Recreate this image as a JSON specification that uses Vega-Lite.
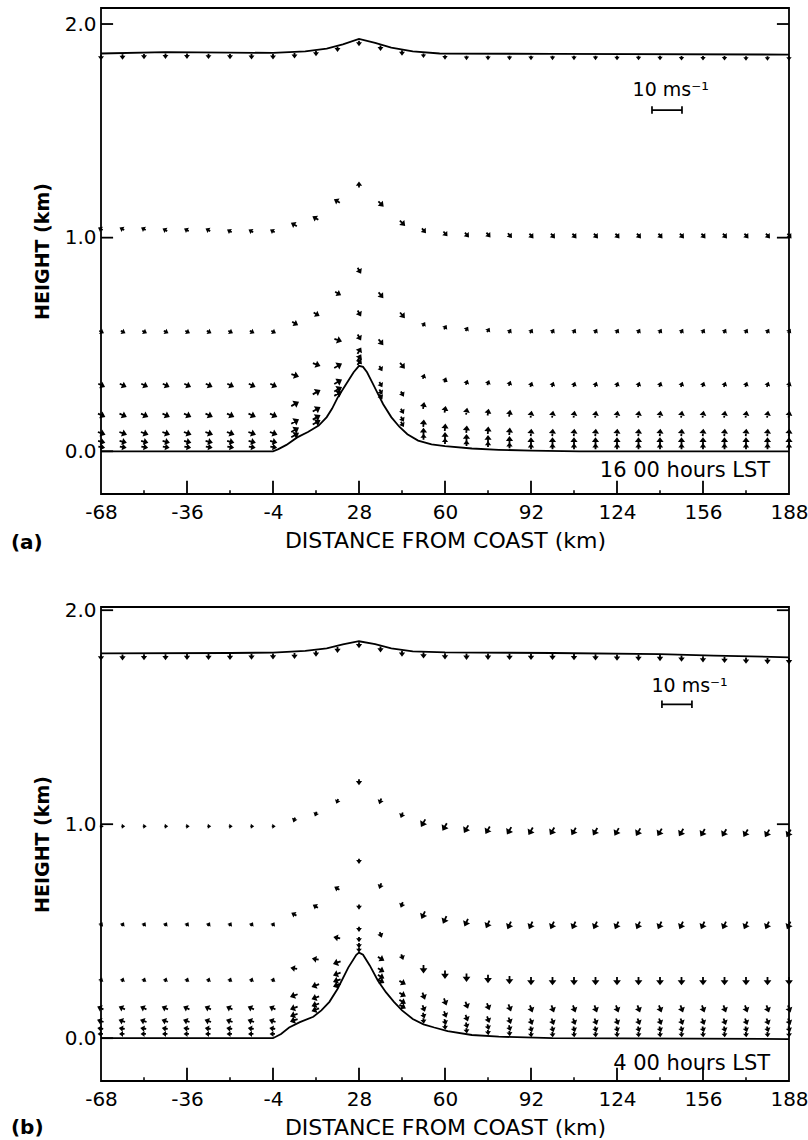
{
"$schema": "https://vega.github.io/schema/vega-lite/v6.json",
"padding": {"left": 10, "top": 7, "right": 6, "bottom": 4},
"background": "white",
"spacing": 44,
"config": {
 "font": "DejaVu Sans",
 "view": {"stroke": "black", "strokeWidth": 1.8},
 "axisX": {"ticks": false, "domain": false, "grid": false, "labelFontSize": 20, "labelColor": "black", "labelPadding": 8, "labelFlush": false, "labelExpr": "'' + datum.value", "titleFontSize": 22, "titleFontWeight": "normal", "titleColor": "black", "titlePadding": 8},
 "axisY": {"ticks": false, "domain": false, "grid": false, "labelFontSize": 20, "labelColor": "black", "labelPadding": 5, "titleFontSize": 19, "titleFontWeight": "bold", "titleColor": "black", "titlePadding": 12}
},
"datasets": {
 "ta": [{"x":-68,"h":0},{"x":-4,"h":0},{"x":-2,"h":0.01},{"x":1,"h":0.03},{"x":5,"h":0.065},{"x":9,"h":0.09},{"x":13,"h":0.12},{"x":16,"h":0.16},{"x":18,"h":0.2},{"x":20,"h":0.25},{"x":23,"h":0.31},{"x":26,"h":0.37},{"x":28,"h":0.4},{"x":29.5,"h":0.395},{"x":31,"h":0.37},{"x":33,"h":0.32},{"x":35,"h":0.27},{"x":37,"h":0.22},{"x":40,"h":0.16},{"x":43,"h":0.115},{"x":46,"h":0.08},{"x":50,"h":0.05},{"x":55,"h":0.032},{"x":60,"h":0.024},{"x":70,"h":0.013},{"x":80,"h":0.007},{"x":92,"h":0.003},{"x":110,"h":0},{"x":188,"h":0}],
 "pa": [{"x":-68,"h":1.862},{"x":-44,"h":1.868},{"x":-20,"h":1.866},{"x":-4,"h":1.865},{"x":8,"h":1.872},{"x":16,"h":1.885},{"x":22,"h":1.905},{"x":28,"h":1.93},{"x":34,"h":1.912},{"x":40,"h":1.89},{"x":48,"h":1.872},{"x":58,"h":1.862},{"x":100,"h":1.86},{"x":188,"h":1.857}],
 "tb": [{"x":-68,"h":0},{"x":-4,"h":0},{"x":-1,"h":0.02},{"x":2,"h":0.05},{"x":6,"h":0.075},{"x":11,"h":0.1},{"x":14,"h":0.13},{"x":17,"h":0.17},{"x":20,"h":0.23},{"x":24,"h":0.33},{"x":27,"h":0.39},{"x":28,"h":0.4},{"x":29.5,"h":0.39},{"x":32,"h":0.34},{"x":35,"h":0.27},{"x":38,"h":0.215},{"x":41,"h":0.17},{"x":44,"h":0.13},{"x":48,"h":0.09},{"x":52,"h":0.065},{"x":56,"h":0.05},{"x":61,"h":0.033},{"x":70,"h":0.015},{"x":80,"h":0.007},{"x":100,"h":0},{"x":188,"h":-0.004}],
 "pb": [{"x":-68,"h":1.798},{"x":-20,"h":1.8},{"x":-4,"h":1.802},{"x":8,"h":1.81},{"x":16,"h":1.822},{"x":22,"h":1.84},{"x":28,"h":1.855},{"x":34,"h":1.842},{"x":40,"h":1.822},{"x":48,"h":1.808},{"x":60,"h":1.803},{"x":100,"h":1.8},{"x":140,"h":1.795},{"x":160,"h":1.788},{"x":188,"h":1.78}],
 "minor": [{"t":-52},{"t":-20},{"t":12},{"t":44},{"t":76},{"t":108},{"t":140},{"t":172}],
 "major": [{"t":-36},{"t":-4},{"t":28},{"t":60},{"t":92},{"t":124},{"t":156}],
 "yt": [{"h":0},{"h":1},{"h":2}],
 "rt": [{"h":1},{"h":2}],
 "va": [
{"x":-68,"z":0.02,"d":100,"v":1.8},{"x":-60,"z":0.02,"d":100,"v":1.8},{"x":-52,"z":0.02,"d":100,"v":1.8},{"x":-44,"z":0.02,"d":100,"v":1.8},{"x":-36,"z":0.02,"d":100,"v":1.8},{"x":-28,"z":0.02,"d":100,"v":1.8},{"x":-20,"z":0.02,"d":100,"v":1.8},{"x":-12,"z":0.02,"d":100,"v":1.8},{"x":-4,"z":0.02,"d":100,"v":1.8},
{"x":4,"z":0.074,"d":60,"v":2.5},{"x":12,"z":0.134,"d":60,"v":2.5},{"x":20,"z":0.268,"d":60,"v":2.5},{"x":28,"z":0.416,"d":30,"v":2.0},{"x":36,"z":0.258,"d":150,"v":1.5},{"x":44,"z":0.129,"d":150,"v":1.5},
{"x":52,"z":0.065,"d":0,"v":1.5},{"x":60,"z":0.045,"d":0,"v":1.5},{"x":68,"z":0.035,"d":0,"v":1.5},{"x":76,"z":0.03,"d":0,"v":1.5},{"x":84,"z":0.025,"d":0,"v":1.5},{"x":92,"z":0.02,"d":0,"v":1.5},{"x":100,"z":0.02,"d":0,"v":1.5},{"x":108,"z":0.02,"d":0,"v":1.5},{"x":116,"z":0.02,"d":0,"v":1.5},{"x":124,"z":0.02,"d":0,"v":1.5},{"x":132,"z":0.02,"d":0,"v":1.5},{"x":140,"z":0.02,"d":0,"v":1.5},{"x":148,"z":0.02,"d":0,"v":1.5},{"x":156,"z":0.02,"d":0,"v":1.5},{"x":164,"z":0.02,"d":0,"v":1.5},{"x":172,"z":0.02,"d":0,"v":1.5},{"x":180,"z":0.02,"d":0,"v":1.5},{"x":188,"z":0.02,"d":0,"v":1.5},
{"x":-68,"z":0.045,"d":105,"v":2.0},{"x":-60,"z":0.045,"d":105,"v":2.0},{"x":-52,"z":0.045,"d":105,"v":2.0},{"x":-44,"z":0.045,"d":105,"v":2.0},{"x":-36,"z":0.045,"d":105,"v":2.0},{"x":-28,"z":0.045,"d":105,"v":2.0},{"x":-20,"z":0.045,"d":105,"v":2.0},{"x":-12,"z":0.045,"d":105,"v":2.0},{"x":-4,"z":0.045,"d":105,"v":2.0},
{"x":4,"z":0.099,"d":60,"v":2.5},{"x":12,"z":0.157,"d":60,"v":2.5},{"x":20,"z":0.289,"d":60,"v":2.5},{"x":28,"z":0.436,"d":30,"v":2.0},{"x":36,"z":0.28,"d":150,"v":1.5},{"x":44,"z":0.153,"d":150,"v":1.5},
{"x":52,"z":0.089,"d":0,"v":2.0},{"x":60,"z":0.069,"d":0,"v":2.0},{"x":68,"z":0.06,"d":0,"v":2.0},{"x":76,"z":0.055,"d":0,"v":2.0},{"x":84,"z":0.05,"d":0,"v":2.0},{"x":92,"z":0.045,"d":0,"v":2.0},{"x":100,"z":0.045,"d":0,"v":2.0},{"x":108,"z":0.045,"d":0,"v":2.0},{"x":116,"z":0.045,"d":0,"v":2.0},{"x":124,"z":0.045,"d":0,"v":2.0},{"x":132,"z":0.045,"d":0,"v":2.0},{"x":140,"z":0.045,"d":0,"v":2.0},{"x":148,"z":0.045,"d":0,"v":2.0},{"x":156,"z":0.045,"d":0,"v":2.0},{"x":164,"z":0.045,"d":0,"v":2.0},{"x":172,"z":0.045,"d":0,"v":2.0},{"x":180,"z":0.045,"d":0,"v":2.0},{"x":188,"z":0.045,"d":0,"v":2.0},
{"x":-68,"z":0.085,"d":110,"v":2.2},{"x":-60,"z":0.085,"d":110,"v":2.2},{"x":-52,"z":0.085,"d":110,"v":2.2},{"x":-44,"z":0.085,"d":110,"v":2.2},{"x":-36,"z":0.085,"d":110,"v":2.2},{"x":-28,"z":0.085,"d":110,"v":2.2},{"x":-20,"z":0.085,"d":110,"v":2.2},{"x":-12,"z":0.085,"d":110,"v":2.2},{"x":-4,"z":0.085,"d":110,"v":2.2},
{"x":4,"z":0.138,"d":60,"v":2.5},{"x":12,"z":0.195,"d":60,"v":2.5},{"x":20,"z":0.324,"d":60,"v":2.5},{"x":28,"z":0.468,"d":30,"v":2.0},{"x":36,"z":0.315,"d":150,"v":1.5},{"x":44,"z":0.19,"d":150,"v":1.5},
{"x":52,"z":0.128,"d":5,"v":2.0},{"x":60,"z":0.109,"d":5,"v":2.0},{"x":68,"z":0.1,"d":5,"v":2.0},{"x":76,"z":0.095,"d":5,"v":2.0},{"x":84,"z":0.09,"d":5,"v":2.0},{"x":92,"z":0.085,"d":5,"v":2.0},{"x":100,"z":0.085,"d":5,"v":2.0},{"x":108,"z":0.085,"d":5,"v":2.0},{"x":116,"z":0.085,"d":5,"v":2.0},{"x":124,"z":0.085,"d":5,"v":2.0},{"x":132,"z":0.085,"d":5,"v":2.0},{"x":140,"z":0.085,"d":5,"v":2.0},{"x":148,"z":0.085,"d":5,"v":2.0},{"x":156,"z":0.085,"d":5,"v":2.0},{"x":164,"z":0.085,"d":5,"v":2.0},{"x":172,"z":0.085,"d":5,"v":2.0},{"x":180,"z":0.085,"d":5,"v":2.0},{"x":188,"z":0.085,"d":5,"v":2.0},
{"x":-68,"z":0.17,"d":115,"v":2.2},{"x":-60,"z":0.17,"d":115,"v":2.2},{"x":-52,"z":0.17,"d":115,"v":2.2},{"x":-44,"z":0.17,"d":115,"v":2.2},{"x":-36,"z":0.17,"d":115,"v":2.2},{"x":-28,"z":0.17,"d":115,"v":2.2},{"x":-20,"z":0.17,"d":115,"v":2.2},{"x":-12,"z":0.17,"d":115,"v":2.2},{"x":-4,"z":0.17,"d":115,"v":2.2},
{"x":4,"z":0.22,"d":60,"v":2.5},{"x":12,"z":0.275,"d":60,"v":2.5},{"x":20,"z":0.399,"d":60,"v":2.5},{"x":28,"z":0.536,"d":150,"v":1.8},{"x":36,"z":0.39,"d":150,"v":1.5},{"x":44,"z":0.271,"d":150,"v":1.5},
{"x":52,"z":0.211,"d":10,"v":1.8},{"x":60,"z":0.193,"d":10,"v":1.8},{"x":68,"z":0.184,"d":10,"v":1.8},{"x":76,"z":0.18,"d":10,"v":1.8},{"x":84,"z":0.175,"d":10,"v":1.8},{"x":92,"z":0.17,"d":10,"v":1.8},{"x":100,"z":0.17,"d":10,"v":1.8},{"x":108,"z":0.17,"d":10,"v":1.8},{"x":116,"z":0.17,"d":10,"v":1.8},{"x":124,"z":0.17,"d":10,"v":1.8},{"x":132,"z":0.17,"d":10,"v":1.8},{"x":140,"z":0.17,"d":10,"v":1.8},{"x":148,"z":0.17,"d":10,"v":1.8},{"x":156,"z":0.17,"d":10,"v":1.8},{"x":164,"z":0.17,"d":10,"v":1.8},{"x":172,"z":0.17,"d":10,"v":1.8},{"x":180,"z":0.17,"d":10,"v":1.8},{"x":188,"z":0.17,"d":10,"v":1.8},
{"x":-68,"z":0.31,"d":115,"v":2.0},{"x":-60,"z":0.31,"d":115,"v":2.0},{"x":-52,"z":0.31,"d":115,"v":2.0},{"x":-44,"z":0.31,"d":115,"v":2.0},{"x":-36,"z":0.31,"d":115,"v":2.0},{"x":-28,"z":0.31,"d":115,"v":2.0},{"x":-20,"z":0.31,"d":115,"v":2.0},{"x":-12,"z":0.31,"d":115,"v":2.0},{"x":-4,"z":0.31,"d":115,"v":2.0},
{"x":4,"z":0.356,"d":110,"v":2.2},{"x":12,"z":0.407,"d":110,"v":2.2},{"x":20,"z":0.521,"d":110,"v":2.2},{"x":28,"z":0.648,"d":150,"v":1.8},{"x":36,"z":0.513,"d":140,"v":2.0},{"x":44,"z":0.403,"d":140,"v":2.0},
{"x":52,"z":0.348,"d":20,"v":1.3},{"x":60,"z":0.331,"d":20,"v":1.3},{"x":68,"z":0.32,"d":20,"v":1.3},{"x":76,"z":0.318,"d":20,"v":1.3},{"x":84,"z":0.315,"d":20,"v":1.3},{"x":92,"z":0.31,"d":20,"v":1.3},{"x":100,"z":0.31,"d":20,"v":1.3},{"x":108,"z":0.31,"d":20,"v":1.3},{"x":116,"z":0.31,"d":20,"v":1.3},{"x":124,"z":0.31,"d":20,"v":1.3},{"x":132,"z":0.31,"d":20,"v":1.3},{"x":140,"z":0.31,"d":20,"v":1.3},{"x":148,"z":0.31,"d":20,"v":1.3},{"x":156,"z":0.31,"d":20,"v":1.3},{"x":164,"z":0.31,"d":20,"v":1.3},{"x":172,"z":0.31,"d":20,"v":1.3},{"x":180,"z":0.31,"d":20,"v":1.3},{"x":188,"z":0.31,"d":20,"v":1.3},
{"x":-68,"z":0.56,"d":120,"v":1.3},{"x":-60,"z":0.56,"d":120,"v":1.3},{"x":-52,"z":0.56,"d":120,"v":1.3},{"x":-44,"z":0.56,"d":120,"v":1.3},{"x":-36,"z":0.56,"d":120,"v":1.3},{"x":-28,"z":0.56,"d":120,"v":1.3},{"x":-20,"z":0.56,"d":120,"v":1.3},{"x":-12,"z":0.56,"d":120,"v":1.3},{"x":-4,"z":0.56,"d":120,"v":1.3},
{"x":4,"z":0.6,"d":120,"v":1.8},{"x":12,"z":0.643,"d":120,"v":1.8},{"x":20,"z":0.74,"d":120,"v":1.8},{"x":28,"z":0.848,"d":150,"v":1.8},{"x":36,"z":0.733,"d":140,"v":2.0},{"x":44,"z":0.639,"d":140,"v":2.0},
{"x":52,"z":0.592,"d":30,"v":1.2},{"x":60,"z":0.578,"d":30,"v":1.2},{"x":68,"z":0.57,"d":30,"v":1.2},{"x":76,"z":0.565,"d":30,"v":1.2},{"x":84,"z":0.56,"d":30,"v":1.2},{"x":92,"z":0.56,"d":30,"v":1.2},{"x":100,"z":0.56,"d":30,"v":1.2},{"x":108,"z":0.56,"d":30,"v":1.2},{"x":116,"z":0.56,"d":30,"v":1.2},{"x":124,"z":0.56,"d":30,"v":1.2},{"x":132,"z":0.56,"d":30,"v":1.2},{"x":140,"z":0.56,"d":30,"v":1.2},{"x":148,"z":0.56,"d":30,"v":1.2},{"x":156,"z":0.56,"d":30,"v":1.2},{"x":164,"z":0.56,"d":30,"v":1.2},{"x":172,"z":0.56,"d":30,"v":1.2},{"x":180,"z":0.56,"d":30,"v":1.2},{"x":188,"z":0.56,"d":30,"v":1.2},
{"x":-68,"z":1.04,"d":300,"v":1.3},{"x":-60,"z":1.04,"d":300,"v":1.3},{"x":-52,"z":1.04,"d":300,"v":1.3},{"x":-44,"z":1.035,"d":300,"v":1.3},{"x":-36,"z":1.035,"d":300,"v":1.3},{"x":-28,"z":1.035,"d":300,"v":1.3},{"x":-20,"z":1.03,"d":300,"v":1.3},{"x":-12,"z":1.03,"d":300,"v":1.3},{"x":-4,"z":1.03,"d":300,"v":1.3},
{"x":4,"z":1.06,"d":300,"v":1.8},{"x":12,"z":1.09,"d":300,"v":1.8},{"x":20,"z":1.17,"d":300,"v":1.8},{"x":28,"z":1.245,"d":0,"v":1.5},{"x":36,"z":1.16,"d":135,"v":2.0},{"x":44,"z":1.07,"d":135,"v":2.0},
{"x":52,"z":1.035,"d":140,"v":1.6},{"x":60,"z":1.02,"d":140,"v":1.6},{"x":68,"z":1.015,"d":140,"v":1.6},{"x":76,"z":1.015,"d":140,"v":1.6},{"x":84,"z":1.012,"d":140,"v":1.6},{"x":92,"z":1.01,"d":140,"v":1.6},{"x":100,"z":1.01,"d":140,"v":1.6},{"x":108,"z":1.01,"d":140,"v":1.6},{"x":116,"z":1.01,"d":140,"v":1.6},{"x":124,"z":1.01,"d":140,"v":1.6},{"x":132,"z":1.01,"d":140,"v":1.6},{"x":140,"z":1.01,"d":140,"v":1.6},{"x":148,"z":1.01,"d":140,"v":1.6},{"x":156,"z":1.01,"d":140,"v":1.6},{"x":164,"z":1.01,"d":140,"v":1.6},{"x":172,"z":1.01,"d":140,"v":1.6},{"x":180,"z":1.01,"d":140,"v":1.6},{"x":188,"z":1.01,"d":140,"v":1.6},
{"x":-68,"z":1.847,"d":180,"v":1.3},{"x":-60,"z":1.849,"d":180,"v":1.3},{"x":-52,"z":1.851,"d":180,"v":1.3},{"x":-44,"z":1.853,"d":180,"v":1.3},{"x":-36,"z":1.853,"d":180,"v":1.3},{"x":-28,"z":1.852,"d":180,"v":1.3},{"x":-20,"z":1.851,"d":180,"v":1.3},{"x":-12,"z":1.85,"d":180,"v":1.3},{"x":-4,"z":1.85,"d":180,"v":1.3},
{"x":4,"z":1.855,"d":180,"v":1.3},{"x":12,"z":1.865,"d":180,"v":1.3},{"x":20,"z":1.885,"d":180,"v":1.3},{"x":28,"z":1.912,"d":180,"v":1.3},{"x":36,"z":1.89,"d":180,"v":1.3},{"x":44,"z":1.868,"d":180,"v":1.3},
{"x":52,"z":1.855,"d":180,"v":1.0},{"x":60,"z":1.847,"d":180,"v":1.0},{"x":68,"z":1.845,"d":180,"v":1.0},{"x":76,"z":1.845,"d":180,"v":1.0},{"x":84,"z":1.845,"d":180,"v":1.0},{"x":92,"z":1.845,"d":180,"v":1.0},{"x":100,"z":1.845,"d":180,"v":1.0},{"x":108,"z":1.845,"d":180,"v":1.0},{"x":116,"z":1.845,"d":180,"v":1.0},{"x":124,"z":1.844,"d":180,"v":1.0},{"x":132,"z":1.844,"d":180,"v":1.0},{"x":140,"z":1.844,"d":180,"v":1.0},{"x":148,"z":1.843,"d":180,"v":1.0},{"x":156,"z":1.843,"d":180,"v":1.0},{"x":164,"z":1.843,"d":180,"v":1.0},{"x":172,"z":1.842,"d":180,"v":1.0},{"x":180,"z":1.842,"d":180,"v":1.0},{"x":188,"z":1.842,"d":180,"v":1.0}
 ],
 "vb": [
{"x":-68,"z":0.02,"d":270,"v":1.3},{"x":-60,"z":0.02,"d":270,"v":1.3},{"x":-52,"z":0.02,"d":270,"v":1.3},{"x":-44,"z":0.02,"d":270,"v":1.3},{"x":-36,"z":0.02,"d":270,"v":1.3},{"x":-28,"z":0.02,"d":270,"v":1.3},{"x":-20,"z":0.02,"d":270,"v":1.3},{"x":-12,"z":0.02,"d":270,"v":1.3},{"x":-4,"z":0.02,"d":270,"v":1.3},
{"x":4,"z":0.084,"d":250,"v":2.2},{"x":12,"z":0.134,"d":250,"v":2.2},{"x":20,"z":0.248,"d":250,"v":2.2},{"x":28,"z":0.416,"d":180,"v":1.2},{"x":36,"z":0.268,"d":120,"v":2.0},{"x":44,"z":0.149,"d":120,"v":2.0},
{"x":52,"z":0.084,"d":175,"v":1.3},{"x":60,"z":0.055,"d":175,"v":1.3},{"x":68,"z":0.038,"d":175,"v":1.3},{"x":76,"z":0.03,"d":175,"v":1.3},{"x":84,"z":0.025,"d":175,"v":1.3},{"x":92,"z":0.02,"d":175,"v":1.3},{"x":100,"z":0.02,"d":175,"v":1.3},{"x":108,"z":0.02,"d":175,"v":1.3},{"x":116,"z":0.02,"d":175,"v":1.3},{"x":124,"z":0.02,"d":175,"v":1.3},{"x":132,"z":0.02,"d":175,"v":1.3},{"x":140,"z":0.02,"d":175,"v":1.3},{"x":148,"z":0.02,"d":175,"v":1.3},{"x":156,"z":0.02,"d":175,"v":1.3},{"x":164,"z":0.02,"d":175,"v":1.3},{"x":172,"z":0.02,"d":175,"v":1.3},{"x":180,"z":0.02,"d":175,"v":1.3},{"x":188,"z":0.02,"d":175,"v":1.3},
{"x":-68,"z":0.045,"d":280,"v":1.5},{"x":-60,"z":0.045,"d":280,"v":1.5},{"x":-52,"z":0.045,"d":280,"v":1.5},{"x":-44,"z":0.045,"d":280,"v":1.5},{"x":-36,"z":0.045,"d":280,"v":1.5},{"x":-28,"z":0.045,"d":280,"v":1.5},{"x":-20,"z":0.045,"d":280,"v":1.5},{"x":-12,"z":0.045,"d":280,"v":1.5},{"x":-4,"z":0.045,"d":280,"v":1.5},
{"x":4,"z":0.109,"d":250,"v":2.2},{"x":12,"z":0.157,"d":250,"v":2.2},{"x":20,"z":0.27,"d":250,"v":2.2},{"x":28,"z":0.436,"d":180,"v":1.2},{"x":36,"z":0.289,"d":120,"v":2.0},{"x":44,"z":0.172,"d":120,"v":2.0},
{"x":52,"z":0.109,"d":165,"v":1.5},{"x":60,"z":0.079,"d":165,"v":1.5},{"x":68,"z":0.063,"d":165,"v":1.5},{"x":76,"z":0.055,"d":165,"v":1.5},{"x":84,"z":0.05,"d":165,"v":1.5},{"x":92,"z":0.045,"d":165,"v":1.5},{"x":100,"z":0.045,"d":165,"v":1.5},{"x":108,"z":0.045,"d":165,"v":1.5},{"x":116,"z":0.045,"d":165,"v":1.5},{"x":124,"z":0.045,"d":165,"v":1.5},{"x":132,"z":0.045,"d":165,"v":1.5},{"x":140,"z":0.045,"d":165,"v":1.5},{"x":148,"z":0.045,"d":165,"v":1.5},{"x":156,"z":0.045,"d":165,"v":1.5},{"x":164,"z":0.045,"d":165,"v":1.5},{"x":172,"z":0.045,"d":165,"v":1.5},{"x":180,"z":0.045,"d":165,"v":1.5},{"x":188,"z":0.045,"d":165,"v":1.5},
{"x":-68,"z":0.08,"d":290,"v":1.8},{"x":-60,"z":0.08,"d":290,"v":1.8},{"x":-52,"z":0.08,"d":290,"v":1.8},{"x":-44,"z":0.08,"d":290,"v":1.8},{"x":-36,"z":0.08,"d":290,"v":1.8},{"x":-28,"z":0.08,"d":290,"v":1.8},{"x":-20,"z":0.08,"d":290,"v":1.8},{"x":-12,"z":0.08,"d":290,"v":1.8},{"x":-4,"z":0.08,"d":290,"v":1.8},
{"x":4,"z":0.142,"d":250,"v":2.2},{"x":12,"z":0.19,"d":250,"v":2.2},{"x":20,"z":0.301,"d":250,"v":2.2},{"x":28,"z":0.464,"d":180,"v":1.2},{"x":36,"z":0.32,"d":120,"v":2.0},{"x":44,"z":0.205,"d":120,"v":2.0},
{"x":52,"z":0.142,"d":160,"v":1.8},{"x":60,"z":0.114,"d":160,"v":1.8},{"x":68,"z":0.097,"d":160,"v":1.8},{"x":76,"z":0.09,"d":160,"v":1.8},{"x":84,"z":0.085,"d":160,"v":1.8},{"x":92,"z":0.08,"d":160,"v":1.8},{"x":100,"z":0.08,"d":160,"v":1.8},{"x":108,"z":0.08,"d":160,"v":1.8},{"x":116,"z":0.08,"d":160,"v":1.8},{"x":124,"z":0.08,"d":160,"v":1.8},{"x":132,"z":0.08,"d":160,"v":1.8},{"x":140,"z":0.08,"d":160,"v":1.8},{"x":148,"z":0.08,"d":160,"v":1.8},{"x":156,"z":0.08,"d":160,"v":1.8},{"x":164,"z":0.08,"d":160,"v":1.8},{"x":172,"z":0.08,"d":160,"v":1.8},{"x":180,"z":0.08,"d":160,"v":1.8},{"x":188,"z":0.08,"d":160,"v":1.8},
{"x":-68,"z":0.14,"d":295,"v":1.8},{"x":-60,"z":0.14,"d":295,"v":1.8},{"x":-52,"z":0.14,"d":295,"v":1.8},{"x":-44,"z":0.14,"d":295,"v":1.8},{"x":-36,"z":0.14,"d":295,"v":1.8},{"x":-28,"z":0.14,"d":295,"v":1.8},{"x":-20,"z":0.14,"d":295,"v":1.8},{"x":-12,"z":0.14,"d":295,"v":1.8},{"x":-4,"z":0.14,"d":295,"v":1.8},
{"x":4,"z":0.2,"d":250,"v":2.2},{"x":12,"z":0.247,"d":250,"v":2.2},{"x":20,"z":0.354,"d":250,"v":2.2},{"x":28,"z":0.512,"d":180,"v":1.2},{"x":36,"z":0.373,"d":120,"v":2.0},{"x":44,"z":0.261,"d":120,"v":2.0},
{"x":52,"z":0.2,"d":160,"v":2.0},{"x":60,"z":0.173,"d":160,"v":2.0},{"x":68,"z":0.157,"d":160,"v":2.0},{"x":76,"z":0.15,"d":160,"v":2.0},{"x":84,"z":0.145,"d":160,"v":2.0},{"x":92,"z":0.14,"d":160,"v":2.0},{"x":100,"z":0.14,"d":160,"v":2.0},{"x":108,"z":0.14,"d":160,"v":2.0},{"x":116,"z":0.14,"d":160,"v":2.0},{"x":124,"z":0.14,"d":160,"v":2.0},{"x":132,"z":0.14,"d":160,"v":2.0},{"x":140,"z":0.14,"d":160,"v":2.0},{"x":148,"z":0.14,"d":160,"v":2.0},{"x":156,"z":0.14,"d":160,"v":2.0},{"x":164,"z":0.14,"d":160,"v":2.0},{"x":172,"z":0.14,"d":160,"v":2.0},{"x":180,"z":0.14,"d":160,"v":2.0},{"x":188,"z":0.14,"d":160,"v":2.0},
{"x":-68,"z":0.27,"d":20,"v":1.0},{"x":-60,"z":0.27,"d":20,"v":1.0},{"x":-52,"z":0.27,"d":20,"v":1.0},{"x":-44,"z":0.27,"d":20,"v":1.0},{"x":-36,"z":0.27,"d":20,"v":1.0},{"x":-28,"z":0.27,"d":20,"v":1.0},{"x":-20,"z":0.27,"d":20,"v":1.0},{"x":-12,"z":0.27,"d":20,"v":1.0},{"x":-4,"z":0.27,"d":20,"v":1.0},
{"x":4,"z":0.326,"d":280,"v":1.8},{"x":12,"z":0.369,"d":280,"v":1.8},{"x":20,"z":0.469,"d":280,"v":1.8},{"x":28,"z":0.616,"d":180,"v":1.2},{"x":36,"z":0.486,"d":160,"v":1.5},{"x":44,"z":0.382,"d":160,"v":1.5},
{"x":52,"z":0.326,"d":180,"v":2.3},{"x":60,"z":0.3,"d":180,"v":2.3},{"x":68,"z":0.286,"d":180,"v":2.3},{"x":76,"z":0.28,"d":180,"v":2.3},{"x":84,"z":0.275,"d":180,"v":2.3},{"x":92,"z":0.27,"d":180,"v":2.3},{"x":100,"z":0.27,"d":180,"v":2.3},{"x":108,"z":0.27,"d":180,"v":2.3},{"x":116,"z":0.27,"d":180,"v":2.3},{"x":124,"z":0.27,"d":180,"v":2.3},{"x":132,"z":0.27,"d":180,"v":2.3},{"x":140,"z":0.27,"d":180,"v":2.3},{"x":148,"z":0.27,"d":180,"v":2.3},{"x":156,"z":0.27,"d":180,"v":2.3},{"x":164,"z":0.27,"d":180,"v":2.3},{"x":172,"z":0.27,"d":180,"v":2.3},{"x":180,"z":0.27,"d":180,"v":2.3},{"x":188,"z":0.27,"d":180,"v":2.3},
{"x":-68,"z":0.53,"d":30,"v":1.0},{"x":-60,"z":0.53,"d":30,"v":1.0},{"x":-52,"z":0.53,"d":30,"v":1.0},{"x":-44,"z":0.53,"d":30,"v":1.0},{"x":-36,"z":0.53,"d":30,"v":1.0},{"x":-28,"z":0.53,"d":30,"v":1.0},{"x":-20,"z":0.53,"d":30,"v":1.0},{"x":-12,"z":0.53,"d":30,"v":1.0},{"x":-4,"z":0.53,"d":30,"v":1.0},
{"x":4,"z":0.578,"d":300,"v":1.5},{"x":12,"z":0.615,"d":300,"v":1.5},{"x":20,"z":0.699,"d":300,"v":1.5},{"x":28,"z":0.83,"d":180,"v":1.2},{"x":36,"z":0.714,"d":200,"v":1.5},{"x":44,"z":0.626,"d":200,"v":1.5},
{"x":52,"z":0.578,"d":205,"v":2.3},{"x":60,"z":0.556,"d":205,"v":2.3},{"x":68,"z":0.543,"d":205,"v":2.3},{"x":76,"z":0.535,"d":205,"v":2.3},{"x":84,"z":0.53,"d":205,"v":2.3},{"x":92,"z":0.53,"d":205,"v":2.3},{"x":100,"z":0.53,"d":205,"v":2.3},{"x":108,"z":0.53,"d":205,"v":2.3},{"x":116,"z":0.53,"d":205,"v":2.3},{"x":124,"z":0.53,"d":205,"v":2.3},{"x":132,"z":0.53,"d":205,"v":2.3},{"x":140,"z":0.53,"d":205,"v":2.3},{"x":148,"z":0.53,"d":205,"v":2.3},{"x":156,"z":0.53,"d":205,"v":2.3},{"x":164,"z":0.53,"d":205,"v":2.3},{"x":172,"z":0.53,"d":205,"v":2.3},{"x":180,"z":0.53,"d":205,"v":2.3},{"x":188,"z":0.53,"d":205,"v":2.3},
{"x":-68,"z":0.99,"d":90,"v":0.8},{"x":-60,"z":0.99,"d":90,"v":0.8},{"x":-52,"z":0.99,"d":90,"v":0.8},{"x":-44,"z":0.99,"d":90,"v":0.8},{"x":-36,"z":0.99,"d":90,"v":0.8},{"x":-28,"z":0.99,"d":90,"v":0.8},{"x":-20,"z":0.99,"d":90,"v":0.8},{"x":-12,"z":0.99,"d":90,"v":0.8},{"x":-4,"z":0.99,"d":90,"v":0.8},
{"x":4,"z":1.023,"d":200,"v":1.2},{"x":12,"z":1.05,"d":200,"v":1.2},{"x":20,"z":1.11,"d":200,"v":1.2},{"x":28,"z":1.2,"d":180,"v":1.5},{"x":36,"z":1.11,"d":200,"v":1.5},{"x":44,"z":1.045,"d":200,"v":1.5},
{"x":52,"z":1.008,"d":210,"v":2.4},{"x":60,"z":0.99,"d":210,"v":2.4},{"x":68,"z":0.98,"d":210,"v":2.4},{"x":76,"z":0.975,"d":210,"v":2.4},{"x":84,"z":0.972,"d":210,"v":2.4},{"x":92,"z":0.97,"d":210,"v":2.4},{"x":100,"z":0.97,"d":210,"v":2.4},{"x":108,"z":0.969,"d":210,"v":2.4},{"x":116,"z":0.968,"d":210,"v":2.4},{"x":124,"z":0.967,"d":210,"v":2.4},{"x":132,"z":0.966,"d":210,"v":2.4},{"x":140,"z":0.965,"d":210,"v":2.4},{"x":148,"z":0.964,"d":210,"v":2.4},{"x":156,"z":0.963,"d":210,"v":2.4},{"x":164,"z":0.962,"d":210,"v":2.4},{"x":172,"z":0.961,"d":210,"v":2.4},{"x":180,"z":0.96,"d":210,"v":2.4},{"x":188,"z":0.96,"d":210,"v":2.4},
{"x":-68,"z":1.783,"d":180,"v":1.5},{"x":-60,"z":1.783,"d":180,"v":1.5},{"x":-52,"z":1.784,"d":180,"v":1.5},{"x":-44,"z":1.784,"d":180,"v":1.5},{"x":-36,"z":1.785,"d":180,"v":1.5},{"x":-28,"z":1.785,"d":180,"v":1.5},{"x":-20,"z":1.785,"d":180,"v":1.5},{"x":-12,"z":1.786,"d":180,"v":1.5},{"x":-4,"z":1.787,"d":180,"v":1.5},
{"x":4,"z":1.79,"d":180,"v":1.5},{"x":12,"z":1.8,"d":180,"v":1.5},{"x":20,"z":1.818,"d":180,"v":1.5},{"x":28,"z":1.84,"d":180,"v":1.5},{"x":36,"z":1.82,"d":180,"v":1.5},{"x":44,"z":1.8,"d":180,"v":1.5},
{"x":52,"z":1.792,"d":180,"v":1.6},{"x":60,"z":1.788,"d":180,"v":1.6},{"x":68,"z":1.786,"d":180,"v":1.6},{"x":76,"z":1.786,"d":180,"v":1.6},{"x":84,"z":1.785,"d":180,"v":1.6},{"x":92,"z":1.785,"d":180,"v":1.6},{"x":100,"z":1.785,"d":180,"v":1.6},{"x":108,"z":1.784,"d":180,"v":1.6},{"x":116,"z":1.783,"d":180,"v":1.6},{"x":124,"z":1.782,"d":180,"v":1.6},{"x":132,"z":1.781,"d":180,"v":1.6},{"x":140,"z":1.78,"d":180,"v":1.6},{"x":148,"z":1.777,"d":180,"v":1.6},{"x":156,"z":1.774,"d":180,"v":1.6},{"x":164,"z":1.771,"d":180,"v":1.6},{"x":172,"z":1.768,"d":180,"v":1.6},{"x":180,"z":1.766,"d":180,"v":1.6},{"x":188,"z":1.765,"d":180,"v":1.6}
 ]
},
"vconcat": [
 {
  "width": 688, "height": 486,
  "layer": [
   {"data": {"name": "ta"}, "mark": {"type": "line", "color": "black", "strokeWidth": 1.8},
    "encoding": {
     "x": {"field": "x", "type": "quantitative", "scale": {"domain": [-68, 188], "nice": false, "zero": false}, "axis": {"title": "DISTANCE FROM COAST (km)", "values": [-68,-36,-4,28,60,92,124,156,188]}},
     "y": {"field": "h", "type": "quantitative", "scale": {"domain": [-0.2, 2.075], "nice": false, "zero": false}, "axis": {"title": "HEIGHT (km)", "values": [0,1,2], "format": ".1f"}}}},
   {"data": {"name": "pa"}, "mark": {"type": "line", "color": "black", "strokeWidth": 1.8},
    "encoding": {
     "x": {"field": "x", "type": "quantitative", "scale": {"domain": [-68, 188], "nice": false, "zero": false}},
     "y": {"field": "h", "type": "quantitative", "scale": {"domain": [-0.2, 2.075], "nice": false, "zero": false}}}},
   {"data": {"name": "va"}, "mark": {"type": "point", "shape": "M0,1L0,-0.2M-0.6,-0.2L0,-1L0.6,-0.2Z", "filled": true, "fill": "black", "stroke": "black", "strokeWidth": 1.8, "opacity": 1},
    "encoding": {
     "x": {"field": "x", "type": "quantitative", "scale": {"domain": [-68, 188], "nice": false, "zero": false}},
     "y": {"field": "z", "type": "quantitative", "scale": {"domain": [-0.2, 2.075], "nice": false, "zero": false}},
     "angle": {"field": "d", "type": "quantitative", "scale": null},
     "size": {"field": "v", "type": "quantitative", "scale": {"type": "pow", "exponent": 2, "domain": [0, 10], "range": [0, 900]}, "legend": null}}},
   {"data": {"name": "minor"}, "mark": {"type": "rule", "color": "black", "strokeWidth": 1.5},
    "encoding": {
     "x": {"field": "t", "type": "quantitative", "scale": {"domain": [-68, 188], "nice": false, "zero": false}},
     "y": {"datum": -0.2, "type": "quantitative", "scale": {"domain": [-0.2, 2.075], "nice": false, "zero": false}},
     "y2": {"datum": -0.183}}},
   {"data": {"name": "major"}, "mark": {"type": "rule", "color": "black", "strokeWidth": 1.8},
    "encoding": {
     "x": {"field": "t", "type": "quantitative", "scale": {"domain": [-68, 188], "nice": false, "zero": false}},
     "y": {"datum": -0.2, "type": "quantitative", "scale": {"domain": [-0.2, 2.075], "nice": false, "zero": false}},
     "y2": {"datum": -0.138}}},
   {"data": {"name": "yt"}, "mark": {"type": "rule", "color": "black", "strokeWidth": 1.8},
    "encoding": {
     "y": {"field": "h", "type": "quantitative", "scale": {"domain": [-0.2, 2.075], "nice": false, "zero": false}},
     "x": {"datum": -68, "type": "quantitative", "scale": {"domain": [-68, 188], "nice": false, "zero": false}},
     "x2": {"datum": -63.5}}},
   {"data": {"name": "rt"}, "mark": {"type": "rule", "color": "black", "strokeWidth": 1.8},
    "encoding": {
     "y": {"field": "h", "type": "quantitative", "scale": {"domain": [-0.2, 2.075], "nice": false, "zero": false}},
     "x": {"datum": 188, "type": "quantitative", "scale": {"domain": [-68, 188], "nice": false, "zero": false}},
     "x2": {"datum": 183.5}}},
   {"data": {"values": [{}]}, "mark": {"type": "point", "shape": "M-1,0L1,0M-1,-0.25L-1,0.25M1,-0.25L1,0.25", "filled": false, "stroke": "black", "strokeWidth": 1.7, "opacity": 1},
    "encoding": {
     "x": {"datum": 142.6, "type": "quantitative", "scale": {"domain": [-68, 188], "nice": false, "zero": false}},
     "y": {"datum": 1.597, "type": "quantitative", "scale": {"domain": [-0.2, 2.075], "nice": false, "zero": false}},
     "size": {"datum": 10, "type": "quantitative", "scale": {"type": "pow", "exponent": 2, "domain": [0, 10], "range": [0, 900]}, "legend": null}}},
   {"data": {"values": [{}]}, "mark": {"type": "text", "text": "10 ms⁻¹", "fontSize": 19, "align": "center", "baseline": "middle", "color": "black"},
    "encoding": {
     "x": {"datum": 144, "type": "quantitative", "scale": {"domain": [-68, 188], "nice": false, "zero": false}},
     "y": {"datum": 1.69, "type": "quantitative", "scale": {"domain": [-0.2, 2.075], "nice": false, "zero": false}}}},
   {"data": {"values": [{}]}, "mark": {"type": "text", "text": "16 00 hours LST", "fontSize": 21, "align": "right", "baseline": "middle", "color": "black"},
    "encoding": {
     "x": {"datum": 181, "type": "quantitative", "scale": {"domain": [-68, 188], "nice": false, "zero": false}},
     "y": {"datum": -0.09, "type": "quantitative", "scale": {"domain": [-0.2, 2.075], "nice": false, "zero": false}}}},
   {"data": {"values": [{}]}, "mark": {"type": "text", "text": "(a)", "fontSize": 20, "fontWeight": "bold", "align": "left", "baseline": "middle", "color": "black"},
    "encoding": {
     "x": {"datum": -101.5, "type": "quantitative", "scale": {"domain": [-68, 188], "nice": false, "zero": false}},
     "y": {"datum": -0.43, "type": "quantitative", "scale": {"domain": [-0.2, 2.075], "nice": false, "zero": false}}}}
  ]
 },
 {
  "width": 688, "height": 474,
  "layer": [
   {"data": {"name": "tb"}, "mark": {"type": "line", "color": "black", "strokeWidth": 1.8},
    "encoding": {
     "x": {"field": "x", "type": "quantitative", "scale": {"domain": [-68, 188], "nice": false, "zero": false}, "axis": {"title": "DISTANCE FROM COAST (km)", "values": [-68,-36,-4,28,60,92,124,156,188]}},
     "y": {"field": "h", "type": "quantitative", "scale": {"domain": [-0.2, 2.015], "nice": false, "zero": false}, "axis": {"title": "HEIGHT (km)", "values": [0,1,2], "format": ".1f"}}}},
   {"data": {"name": "pb"}, "mark": {"type": "line", "color": "black", "strokeWidth": 1.8},
    "encoding": {
     "x": {"field": "x", "type": "quantitative", "scale": {"domain": [-68, 188], "nice": false, "zero": false}},
     "y": {"field": "h", "type": "quantitative", "scale": {"domain": [-0.2, 2.015], "nice": false, "zero": false}}}},
   {"data": {"name": "vb"}, "mark": {"type": "point", "shape": "M0,1L0,-0.2M-0.6,-0.2L0,-1L0.6,-0.2Z", "filled": true, "fill": "black", "stroke": "black", "strokeWidth": 1.8, "opacity": 1},
    "encoding": {
     "x": {"field": "x", "type": "quantitative", "scale": {"domain": [-68, 188], "nice": false, "zero": false}},
     "y": {"field": "z", "type": "quantitative", "scale": {"domain": [-0.2, 2.015], "nice": false, "zero": false}},
     "angle": {"field": "d", "type": "quantitative", "scale": null},
     "size": {"field": "v", "type": "quantitative", "scale": {"type": "pow", "exponent": 2, "domain": [0, 10], "range": [0, 900]}, "legend": null}}},
   {"data": {"name": "minor"}, "mark": {"type": "rule", "color": "black", "strokeWidth": 1.5},
    "encoding": {
     "x": {"field": "t", "type": "quantitative", "scale": {"domain": [-68, 188], "nice": false, "zero": false}},
     "y": {"datum": -0.2, "type": "quantitative", "scale": {"domain": [-0.2, 2.015], "nice": false, "zero": false}},
     "y2": {"datum": -0.183}}},
   {"data": {"name": "major"}, "mark": {"type": "rule", "color": "black", "strokeWidth": 1.8},
    "encoding": {
     "x": {"field": "t", "type": "quantitative", "scale": {"domain": [-68, 188], "nice": false, "zero": false}},
     "y": {"datum": -0.2, "type": "quantitative", "scale": {"domain": [-0.2, 2.015], "nice": false, "zero": false}},
     "y2": {"datum": -0.138}}},
   {"data": {"name": "yt"}, "mark": {"type": "rule", "color": "black", "strokeWidth": 1.8},
    "encoding": {
     "y": {"field": "h", "type": "quantitative", "scale": {"domain": [-0.2, 2.015], "nice": false, "zero": false}},
     "x": {"datum": -68, "type": "quantitative", "scale": {"domain": [-68, 188], "nice": false, "zero": false}},
     "x2": {"datum": -63.5}}},
   {"data": {"name": "rt"}, "mark": {"type": "rule", "color": "black", "strokeWidth": 1.8},
    "encoding": {
     "y": {"field": "h", "type": "quantitative", "scale": {"domain": [-0.2, 2.015], "nice": false, "zero": false}},
     "x": {"datum": 188, "type": "quantitative", "scale": {"domain": [-68, 188], "nice": false, "zero": false}},
     "x2": {"datum": 183.5}}},
   {"data": {"values": [{}]}, "mark": {"type": "point", "shape": "M-1,0L1,0M-1,-0.25L-1,0.25M1,-0.25L1,0.25", "filled": false, "stroke": "black", "strokeWidth": 1.7, "opacity": 1},
    "encoding": {
     "x": {"datum": 146.3, "type": "quantitative", "scale": {"domain": [-68, 188], "nice": false, "zero": false}},
     "y": {"datum": 1.56, "type": "quantitative", "scale": {"domain": [-0.2, 2.015], "nice": false, "zero": false}},
     "size": {"datum": 10, "type": "quantitative", "scale": {"type": "pow", "exponent": 2, "domain": [0, 10], "range": [0, 900]}, "legend": null}}},
   {"data": {"values": [{}]}, "mark": {"type": "text", "text": "10 ms⁻¹", "fontSize": 19, "align": "center", "baseline": "middle", "color": "black"},
    "encoding": {
     "x": {"datum": 151, "type": "quantitative", "scale": {"domain": [-68, 188], "nice": false, "zero": false}},
     "y": {"datum": 1.645, "type": "quantitative", "scale": {"domain": [-0.2, 2.015], "nice": false, "zero": false}}}},
   {"data": {"values": [{}]}, "mark": {"type": "text", "text": "4 00 hours LST", "fontSize": 21, "align": "right", "baseline": "middle", "color": "black"},
    "encoding": {
     "x": {"datum": 181, "type": "quantitative", "scale": {"domain": [-68, 188], "nice": false, "zero": false}},
     "y": {"datum": -0.12, "type": "quantitative", "scale": {"domain": [-0.2, 2.015], "nice": false, "zero": false}}}},
   {"data": {"values": [{}]}, "mark": {"type": "text", "text": "(b)", "fontSize": 20, "fontWeight": "bold", "align": "left", "baseline": "middle", "color": "black"},
    "encoding": {
     "x": {"datum": -101.5, "type": "quantitative", "scale": {"domain": [-68, 188], "nice": false, "zero": false}},
     "y": {"datum": -0.42, "type": "quantitative", "scale": {"domain": [-0.2, 2.015], "nice": false, "zero": false}}}}
  ]
 }
]
}
